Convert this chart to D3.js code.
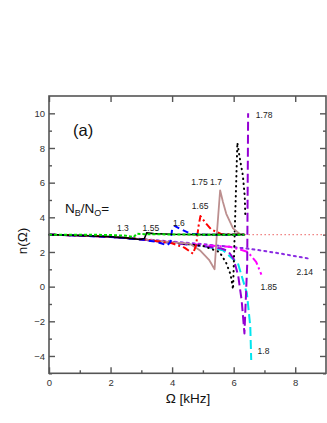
<!DOCTYPE html>
<html>
<head>
<meta charset="utf-8">
<script src="https://cdn.jsdelivr.net/npm/d3@7"></script>
<style>
    html, body { margin: 0; padding: 0; background: #fff; }
    #chart { width: 327px; height: 423px; }
    text { font-family: Arial, "Liberation Sans", sans-serif; }
</style>
</head>
<body>
<div id="chart"></div>
<script>
"use strict";

// Curves: [Omega (kHz), n(Omega)]
const curve130 = [[0, 3], [1, 3.0], [2, 2.98], [2.5, 2.94], [2.75, 2.86], [2.85, 3.05], [3.1, 3.03], [4, 3.01], [5, 3.0], [6.35, 3.0]];
const curve155 = [[0, 3], [1, 2.95], [2, 2.88], [2.6, 2.8], [2.95, 2.72], [3.1, 2.78], [3.17, 3.1], [3.4, 3.06], [4, 3.02], [5, 3.0], [6.35, 3.0]];
const curve160 = [[0, 3], [1, 2.95], [2, 2.87], [3, 2.72], [3.5, 2.58], [3.85, 2.38], [3.95, 2.6], [4.0, 3.3], [4.08, 3.5], [4.3, 3.3], [4.6, 3.05], [5, 3.0], [6.35, 3.0]];
const curve165 = [[0, 3], [1, 2.95], [2, 2.88], [3, 2.74], [4, 2.5], [4.4, 2.25], [4.68, 1.9], [4.78, 2.4], [4.86, 3.5], [4.92, 4.07], [5.1, 3.65], [5.27, 3.3], [5.6, 3.03], [6.35, 3.0]];
const curve170 = [[0, 3], [1, 2.95], [2, 2.88], [3, 2.74], [4, 2.56], [4.57, 2.48], [4.9, 2.1], [5.2, 1.55], [5.38, 1.0], [5.46, 3.2], [5.56, 5.56], [5.65, 4.9], [5.76, 4.2], [5.98, 3.36], [6.19, 3.05], [6.35, 3.0]];
const curve175 = [[0, 3], [1, 2.95], [2, 2.88], [3, 2.73], [4, 2.55], [5, 2.35], [5.54, 2.0], [5.75, 1.4], [5.9, 0.7], [5.98, -0.15], [6.12, 8.3], [6.2, 7.4], [6.3, 6.4], [6.36, 5.2], [6.38, 4.0]];
const curve178 = [[0, 3], [1, 2.95], [2, 2.87], [3, 2.72], [4, 2.52], [5, 2.35], [5.6, 2.2], [5.82, 2.05], [6.0, 1.6], [6.15, 0.6], [6.26, -0.8], [6.35, -2.7], [6.44, 1.3], [6.47, 10.0]];
const curve180 = [[0, 3], [1, 2.95], [2, 2.87], [3, 2.72], [4, 2.52], [5, 2.35], [5.65, 2.1], [6.14, 1.34], [6.43, -0.39], [6.54, -2.31], [6.57, -4.23]];
const curve185 = [[0, 3], [1, 2.95], [2, 2.87], [3, 2.73], [4, 2.55], [5, 2.4], [5.87, 2.3], [6.2, 2.15], [6.46, 2.0], [6.73, 1.43], [6.9, 0.7]];
const curve214 = [[0, 3], [1, 2.95], [2, 2.88], [3, 2.75], [4, 2.6], [5, 2.45], [5.87, 2.3], [6.41, 2.2], [6.84, 2.1], [7.49, 1.92], [8.41, 1.63]];
const refLine = [[6.35, 3], [9, 3]];

// Ratio labels and where they sit (Omega, n)
const ratioLabels = ["1.3", "1.55", "1.6", "1.65", "1.75 1.7", "1.78", "2.14", "1.85", "1.8"];
const labelOmega = [2.4, 3.31, 4.22, 4.91, 5.12, 6.99, 8.31, 7.14, 6.97];
const labelN = [3.37, 3.37, 3.68, 4.64, 6.04, 9.89, 0.84, -0.01, -3.7];

// Axis ticks
const xMajorTicks = [0, 2, 4, 6, 8];
const xMinorTicks = [1, 3, 5, 7];
const yMajorTicks = [-4, -2, 0, 2, 4, 6, 8, 10];
const yMinorTicks = [-5, -3, -1, 1, 3, 5, 7, 9];

function initChart() {
    const width = 327, height = 423;
    const left = 49, right = 326, top = 96, bottom = 373.3;

    const svg = d3.select("#chart")
        .append("svg")
        .attr("width", width)
        .attr("height", height);

    const x = d3.scaleLinear().domain([0, 9]).range([left, right]);
    const y = d3.scaleLinear().domain([-5, 11]).range([bottom, top]);

    const axisColor = "#555";

    // Axes with inward ticks
    function styleAxis(g) {
        g.select(".domain").remove();
        g.selectAll(".tick line").attr("stroke", axisColor).attr("stroke-width", 1.4);
        g.selectAll(".tick text").attr("fill", "#333").style("font-size", "9.5px");
    }

    svg.append("g")
        .attr("transform", `translate(0,${bottom})`)
        .call(d3.axisBottom(x).tickValues(xMajorTicks).tickSize(-6).tickPadding(6).tickFormat(d3.format("d")))
        .call(styleAxis);
    svg.append("g")
        .attr("transform", `translate(0,${bottom})`)
        .call(d3.axisBottom(x).tickValues(xMinorTicks).tickSize(-3).tickFormat(""))
        .call(styleAxis);
    svg.append("g")
        .attr("transform", `translate(0,${top})`)
        .call(d3.axisTop(x).tickValues(xMajorTicks).tickSize(-6).tickFormat(""))
        .call(styleAxis);

    svg.append("g")
        .attr("transform", `translate(${left},0)`)
        .call(d3.axisLeft(y).tickValues(yMajorTicks).tickSize(-6).tickPadding(4).tickFormat(d3.format("d")))
        .call(styleAxis);
    svg.append("g")
        .attr("transform", `translate(${left},0)`)
        .call(d3.axisLeft(y).tickValues(yMinorTicks).tickSize(-3).tickFormat(""))
        .call(styleAxis);
    svg.append("g")
        .attr("transform", `translate(${right},0)`)
        .call(d3.axisRight(y).tickValues(yMajorTicks).tickSize(-6).tickFormat(""))
        .call(styleAxis);
    svg.append("g")
        .attr("transform", `translate(${right},0)`)
        .call(d3.axisRight(y).tickValues(yMinorTicks).tickSize(-3).tickFormat(""))
        .call(styleAxis);

    // Curves
    const line = d3.line().x(d => x(d[0])).y(d => y(d[1]));

    const series = [
        { data: refLine, color: "#f08080", width: 1.2, dash: "1.5,2.5" },
        { data: curve214, color: "#8a2be2", width: 2, dash: "2,4", cap: "round" },
        { data: curve185, color: "#ff00ff", width: 2, dash: "8,3,2,3" },
        { data: curve180, color: "#00e5ee", width: 2, dash: "9,4" },
        { data: curve178, color: "#9400d3", width: 2, dash: "9,4" },
        { data: curve175, color: "#000", width: 2, dash: "0.5,4.5", cap: "round" },
        { data: curve170, color: "#bc8f8f", width: 1.8, dash: null },
        { data: curve165, color: "#ff0000", width: 2, dash: "7,3,2,3" },
        { data: curve160, color: "#0000ff", width: 2, dash: "6,4" },
        { data: curve155, color: "#000", width: 1.6, dash: null },
        { data: curve130, color: "#00dd00", width: 2, dash: "3,2" }
    ];

    svg.append("g")
        .selectAll("path")
        .data(series)
        .join("path")
        .attr("d", d => line(d.data))
        .attr("fill", "none")
        .attr("stroke", d => d.color)
        .attr("stroke-width", d => d.width)
        .attr("stroke-dasharray", d => d.dash)
        .attr("stroke-linecap", d => d.cap || "butt")
        .attr("stroke-linejoin", "round");

    // Frame
    svg.append("rect")
        .attr("x", left).attr("y", top)
        .attr("width", right - left).attr("height", bottom - top)
        .attr("fill", "none")
        .attr("stroke", axisColor)
        .attr("stroke-width", 1.6);

    // Ratio labels
    svg.append("g")
        .selectAll("text")
        .data(ratioLabels)
        .join("text")
        .attr("x", (d, i) => x(labelOmega[i]))
        .attr("y", (d, i) => y(labelN[i]) + 3)
        .attr("text-anchor", "middle")
        .style("font-size", "8.5px")
        .attr("fill", "#222")
        .text(d => d);

    // Panel tag
    svg.append("text")
        .attr("x", 73).attr("y", 136)
        .style("font-size", "16.5px")
        .attr("fill", "#111")
        .text("(a)");

    // N_B/N_O= header
    const head = svg.append("text")
        .attr("x", 65).attr("y", 213)
        .style("font-size", "13.5px")
        .attr("fill", "#111");
    head.append("tspan").text("N");
    head.append("tspan").attr("dy", 3).style("font-size", "9px").text("B");
    head.append("tspan").attr("dy", -3).text("/N");
    head.append("tspan").attr("dy", 3).style("font-size", "9px").text("O");
    head.append("tspan").attr("dy", -3).text("=");

    // Axis titles
    svg.append("text")
        .attr("x", 188).attr("y", 403)
        .attr("text-anchor", "middle")
        .style("font-size", "13.5px")
        .attr("fill", "#111")
        .text("Ω [kHz]");

    svg.append("text")
        .attr("transform", "translate(27,241) rotate(-90)")
        .attr("text-anchor", "middle")
        .style("font-size", "13.5px")
        .attr("fill", "#111")
        .text("n(Ω)");
}

initChart();
</script>
</body>
</html>
